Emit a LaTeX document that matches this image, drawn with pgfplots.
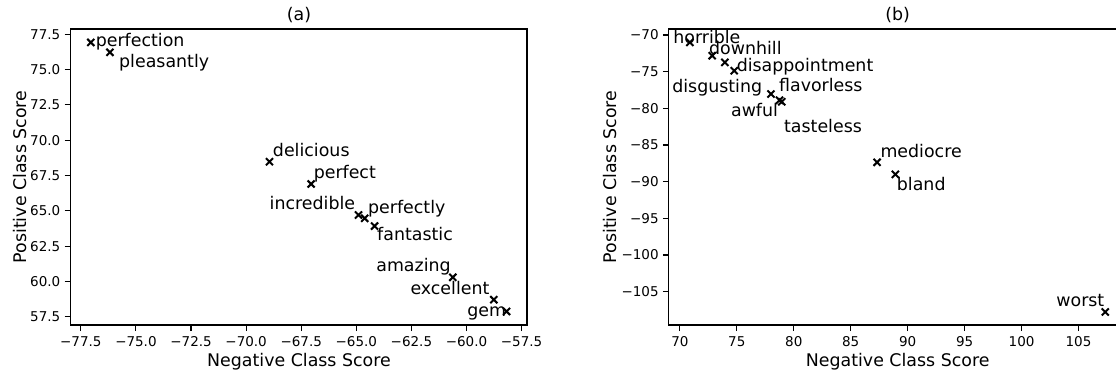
\documentclass[border=0pt]{standalone}
\usepackage{fontspec}
\setmainfont{DejaVu Sans}
\usepackage{pgfplots}
\pgfplotsset{compat=1.18}
\usepackage{pgfplotstable}
\newcommand\lab{\fontsize{17.4pt}{20pt}\selectfont}
\newcommand\tck{\fontsize{13.5pt}{16pt}\selectfont}
\newcommand\T[1]{\mbox{\tck #1}}

\pgfplotstableread{
x y
-77.05 76.93
-76.18 76.23
-68.94 68.48
-67.05 66.90
-64.90 64.70
-64.62 64.47
-64.17 63.92
-60.62 60.29
-58.76 58.70
-58.18 57.87
}\posdata

\pgfplotstableread{
x y
70.88 -71.00
72.84 -72.82
73.95 -73.73
74.77 -74.87
78.00 -78.05
78.75 -78.90
78.95 -79.10
87.31 -87.36
88.92 -89.00
107.35 -107.76
}\negdata

\pgfplotsset{
  myax/.style={
    anchor=south west,
    scale only axis,
    width=456.6pt, height=296pt,
    clip=false,
    axis line style={line width=1.3pt, black},
    every tick/.style={black, line width=1.1pt},
    tick align=outside,
    major tick length=6pt,
    xtick pos=bottom, ytick pos=left,
    minor tick num=0,
    tick label style={font=\tck, inner sep=0pt},
    xticklabel style={anchor=north, font=\tck, inner sep=0pt, yshift=-5.7pt},
    yticklabel style={anchor=east, font=\tck, inner sep=0pt, xshift=-4pt},
  },
}
\tikzset{lbl/.style={anchor=base west, inner sep=0pt, font=\lab},
  mk/.style={only marks, mark=x, mark size=5pt, mark options={line width=2pt, black}}}

\begin{document}
\begin{tikzpicture}[x=1pt,y=1pt]
\useasboundingbox (0,0) rectangle (1116,375);
\clip (0,0) rectangle (1116,375);

\begin{axis}[myax, at={(70.5pt,50pt)},
  xmin=-77.97, xmax=-57.25, ymin=56.91, ymax=77.88,
  xtick={-77.5,-75,-72.5,-70,-67.5,-65,-62.5,-60,-57.5},
  xticklabels={\T{−77.5},\T{−75.0},\T{−72.5},\T{−70.0},\T{−67.5},\T{−65.0},\T{−62.5},\T{−60.0},\T{−57.5}},
  ytick={57.5,60,62.5,65,67.5,70,72.5,75,77.5},
  yticklabels={\T{57.5},\T{60.0},\T{62.5},\T{65.0},\T{67.5},\T{70.0},\T{72.5},\T{75.0},\T{77.5}},
]
\addplot[mk] table[x=x,y=y] {\posdata};
\node[lbl] at (axis cs:-76.83,76.62) {perfection};
\node[lbl] at (axis cs:-75.77,75.13) {pleasantly};
\node[lbl] at (axis cs:-68.79,68.88) {delicious};
\node[lbl] at (axis cs:-66.94,67.30) {perfect};
\node[lbl] at (axis cs:-68.94,65.11) {incredible};
\node[lbl] at (axis cs:-64.47,64.82) {perfectly};
\node[lbl] at (axis cs:-64.06,62.88) {fantastic};
\node[lbl] at (axis cs:-64.10,60.69) {amazing};
\node[lbl] at (axis cs:-62.55,59.04) {excellent};
\node[lbl] at (axis cs:-59.97,57.50) {gem};
\end{axis}

\begin{axis}[myax, at={(668.8pt,50pt)}, width=457.2pt,
  xmin=69.03, xmax=109.17, ymin=-109.54, ymax=-69.18,
  xtick={70,75,80,85,90,95,100,105},
  xticklabels={\T{70},\T{75},\T{80},\T{85},\T{90},\T{95},\T{100},\T{105}},
  ytick={-105,-100,-95,-90,-85,-80,-75,-70},
  yticklabels={\T{−105},\T{−100},\T{−95},\T{−90},\T{−85},\T{−80},\T{−75},\T{−70}},
]
\addplot[mk] table[x=x,y=y] {\negdata};
\node[lbl] at (axis cs:69.41,-71.13) {horrible};
\node[lbl] at (axis cs:72.55,-72.63) {downhill};
\node[lbl] at (axis cs:74.98,-75.00) {disappointment};
\node[lbl] at (axis cs:69.32,-77.87) {disgusting};
\node[lbl] at (axis cs:78.70,-77.73) {flavorless};
\node[lbl] at (axis cs:74.48,-81.05) {awful};
\node[lbl] at (axis cs:79.14,-83.32) {tasteless};
\node[lbl] at (axis cs:87.60,-86.68) {mediocre};
\node[lbl] at (axis cs:89.04,-91.23) {bland};
\node[lbl] at (axis cs:103.04,-106.96) {worst};
\end{axis}

% titles and axis labels
\node[anchor=base, inner sep=0pt, font=\lab] at (299,354) {(a)};
\node[anchor=base, inner sep=0pt, font=\lab] at (299,8.3) {Negative Class Score};
\node[anchor=base, inner sep=0pt, font=\lab, rotate=90] at (26,198) {Positive Class Score};
\node[anchor=base, inner sep=0pt, font=\lab] at (897.7,354) {(b)};
\node[anchor=base, inner sep=0pt, font=\lab] at (897.7,8.3) {Negative Class Score};
\node[anchor=base, inner sep=0pt, font=\lab, rotate=90] at (616.7,198) {Positive Class Score};
\end{tikzpicture}
\end{document}
